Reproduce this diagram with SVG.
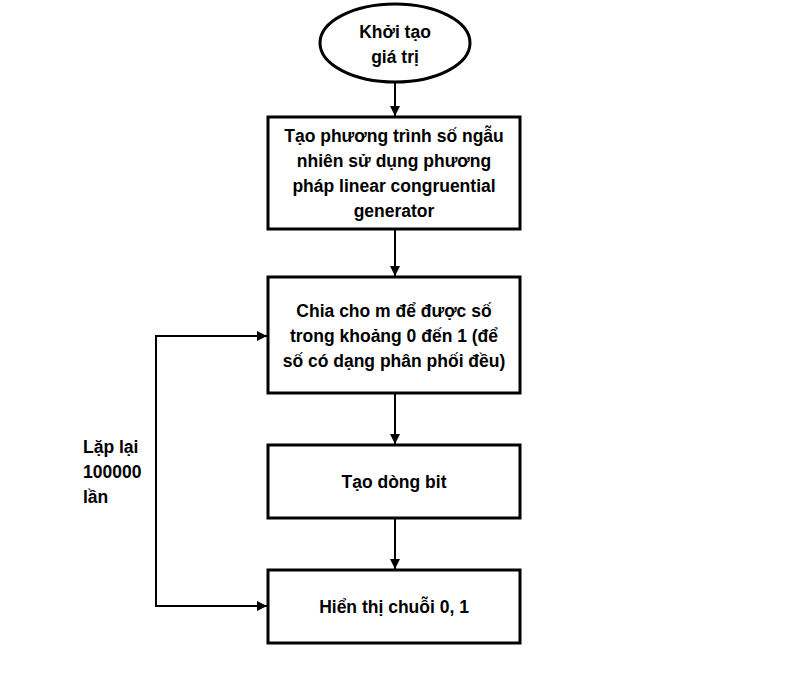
<svg xmlns="http://www.w3.org/2000/svg" width="804" height="674" viewBox="0 0 804 674">
<defs>
<marker id="arr" viewBox="0 0 10 10" refX="10" refY="5" markerWidth="5" markerHeight="5" orient="auto" markerUnits="strokeWidth">
<path d="M0,0 L10,5 L0,10 Z" fill="#000"/>
</marker>
</defs>
<style>
.box{fill:#fff;stroke:#000;stroke-width:3}
.t{font-family:"Liberation Sans","Noto Sans",Arial,sans-serif;font-weight:bold;font-size:17.5px;fill:#000;text-anchor:middle}
.l{font-family:"Liberation Sans","Noto Sans",Arial,sans-serif;font-weight:bold;font-size:17.5px;fill:#000;text-anchor:start}
.c{fill:none;stroke:#000;stroke-width:2;marker-end:url(#arr)}
</style>
<rect width="804" height="674" fill="#fff"/>
<g id="connectors">
<line class="c" x1="395" y1="83" x2="395" y2="116"/>
<line class="c" x1="395" y1="230" x2="395" y2="276"/>
<line class="c" x1="395" y1="394" x2="395" y2="444"/>
<line class="c" x1="395" y1="518" x2="395" y2="569"/>
<polyline class="c" points="156,606 156,336 267,336"/>
<line class="c" x1="155" y1="606" x2="267" y2="606"/>
</g>
<g id="start">
<ellipse cx="395" cy="43" rx="75" ry="39" fill="#fff" stroke="#000" stroke-width="3"/>
<text class="t" x="395" y="38">Khởi tạo</text>
<text class="t" x="395" y="63">giá trị</text>
</g>
<g id="lcg">
<rect class="box" x="268" y="117" width="252" height="112"/>
<text class="t" x="394" y="142">Tạo phương trình số ngẫu</text>
<text class="t" x="394" y="167">nhiên sử dụng phương</text>
<text class="t" x="394" y="192">pháp linear congruential</text>
<text class="t" x="394" y="217">generator</text>
</g>
<g id="divide">
<rect class="box" x="268" y="277" width="252" height="116"/>
<text class="t" x="394" y="317">Chia cho m để được số</text>
<text class="t" x="394" y="342">trong khoảng 0 đến 1 (để</text>
<text class="t" x="394" y="367">số có dạng phân phối đều)</text>
</g>
<g id="bits">
<rect class="box" x="268" y="445" width="252" height="73"/>
<text class="t" x="394" y="488">Tạo dòng bit</text>
</g>
<g id="show">
<rect class="box" x="268" y="570" width="252" height="73"/>
<text class="t" x="394" y="613">Hiển thị chuỗi 0, 1</text>
</g>
<g id="loop-label">
<text class="l" x="83" y="453">Lặp lại</text>
<text class="l" x="83" y="478">100000</text>
<text class="l" x="83" y="503">lần</text>
</g>
</svg>
